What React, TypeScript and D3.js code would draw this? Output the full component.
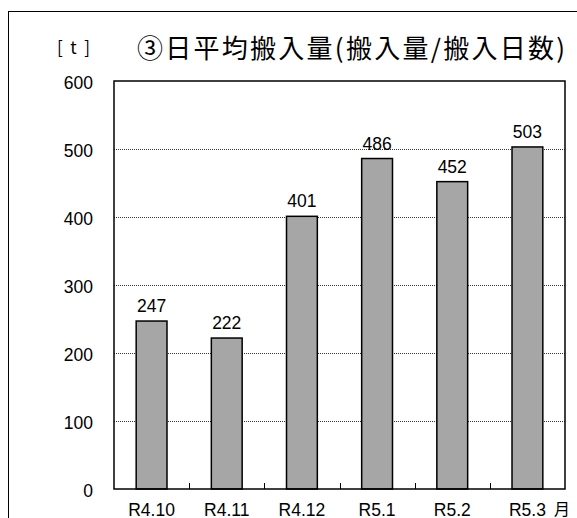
import React from "react";
import * as d3 from "d3";

const months: string[] = ["R4.10", "R4.11", "R4.12", "R5.1", "R5.2", "R5.3"];
const dailyAverage: number[] = [247, 222, 401, 486, 452, 503];
const yTicks: number[] = [0, 100, 200, 300, 400, 500, 600];

const W = 577;
const H = 518;
const plot = { left: 114, right: 565, top: 81, bottom: 489 };
const FONT = "'Liberation Sans', 'Noto Sans CJK JP', sans-serif";
const CJK = "'Noto Sans CJK JP', 'Liberation Sans', sans-serif";

export default function App() {
  const x = d3
    .scaleBand<string>()
    .domain(months)
    .range([plot.left, plot.right])
    .paddingInner(0)
    .paddingOuter(0);
  const y = d3.scaleLinear().domain([0, 600]).range([plot.bottom, plot.top]);
  const barW = x.bandwidth() * 0.41;

  return (
    <svg
      width={W}
      height={H}
      style={{ position: "absolute", left: 0, top: 0, background: "#fff" }}
    >
      {/* outer frame */}
      <rect x={8.5} y={11.5} width={W + 20} height={H + 20} fill="none" stroke="#000" strokeWidth={1} />

      {/* title and unit */}
      <text
        x={137}
        y={58}
        fontFamily={CJK}
        fontSize={26}
        fill="#000"
        textLength={428}
        lengthAdjust="spacing"
      >
        ③日平均搬入量(搬入量/搬入日数)
      </text>
      <text
        x={57}
        y={54}
        fontFamily={CJK}
        fontSize={17}
        fill="#000"
        textLength={33}
        lengthAdjust="spacing"
      >
        [ t ]
      </text>

      {/* grid lines */}
      {yTicks
        .filter((t) => t > 0 && t < 600)
        .map((t) => (
          <line
            key={`g${t}`}
            x1={plot.left}
            x2={plot.right}
            y1={Math.round(y(t)) + 0.5}
            y2={Math.round(y(t)) + 0.5}
            stroke="#333"
            strokeWidth={1}
            strokeDasharray="1 1"
          />
        ))}

      {/* y tick labels */}
      {yTicks.map((t) => (
        <text
          key={`y${t}`}
          x={93}
          y={y(t) + 7.5}
          textAnchor="end"
          fontFamily={FONT}
          fontSize={17.5}
          fill="#000"
        >
          {t}
        </text>
      ))}

      {/* bars */}
      {months.map((m, i) => {
        const cx = (x(m) as number) + x.bandwidth() / 2;
        return (
          <g key={m}>
            <rect
              x={cx - barW / 2}
              y={y(dailyAverage[i])}
              width={barW}
              height={plot.bottom - y(dailyAverage[i])}
              fill="#a6a6a6"
              stroke="#000"
              strokeWidth={1.5}
            />
            <text
              x={cx}
              y={y(dailyAverage[i]) - 9}
              textAnchor="middle"
              fontFamily={FONT}
              fontSize={17.5}
              fill="#000"
            >
              {dailyAverage[i]}
            </text>
            <text
              x={cx}
              y={515.5}
              textAnchor="middle"
              fontFamily={FONT}
              fontSize={17.5}
              fill="#000"
            >
              {m}
            </text>
          </g>
        );
      })}

      {/* x tick marks between categories */}
      {months.slice(1).map((m) => {
        const tx = Math.round(x(m) as number) + 0.5;
        return <line key={`t${m}`} x1={tx} x2={tx} y1={plot.bottom} y2={plot.bottom - 6} stroke="#000" strokeWidth={1} />;
      })}

      {/* plot border */}
      <rect
        x={plot.left}
        y={plot.top}
        width={plot.right - plot.left}
        height={plot.bottom - plot.top}
        fill="none"
        stroke="#000"
        strokeWidth={1.5}
      />

      <text x={554} y={515} fontFamily={CJK} fontSize={16} fill="#000">
        月
      </text>
    </svg>
  );
}
